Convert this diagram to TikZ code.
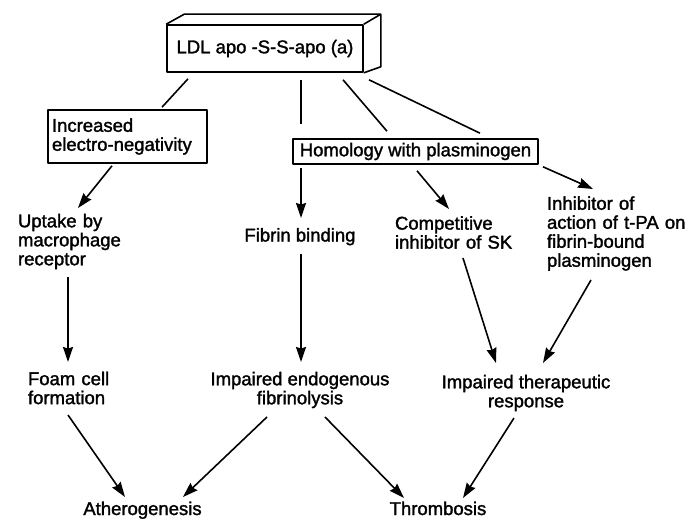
\documentclass[tikz,border=0pt]{standalone}
\usepackage{fontspec}
\setmainfont{Liberation Sans}[FakeBold=1.6]
\usetikzlibrary{arrows.meta}
\begin{document}
\begin{tikzpicture}[x=1pt, y=-1pt, line width=1.6pt, line join=round, >={Stealth[length=15pt,width=10pt,inset=1.5pt]},
		font=\fontsize{18.5}{19}\selectfont,
		box/.style={draw, inner sep=2pt},
		txt/.style={inner sep=0pt},
		lft/.style={txt, align=left, text width=#1}]
	\useasboundingbox (0,0) rectangle (686,519);
	\node[box, minimum width=196pt, minimum height=47pt] (ldl) at (265,48.5) {LDL apo -S-S-apo (a)};
	\draw (ldl.north west) -- ([shift={(18,-10)}]ldl.north west) -- ([shift={(17,-10)}]ldl.north east) -- ([shift={(17,-6)}]ldl.south east) -- (ldl.south east);
	\draw (ldl.north east) -- ([shift={(17,-10)}]ldl.north east);
	\node[draw, align=left, text width=151pt, inner xsep=4pt, inner ysep=0pt, minimum height=53pt] (incr) at (127.5,136.5) {Increased\\electro-negativity};
	\node[box, minimum width=245pt, minimum height=25pt] (hom) at (415.5,151.5) {Homology with plasminogen};
	\node[lft=115pt] (upt) at (75.5,241.5) {Uptake by\\macrophage\\receptor};
	\node[txt, anchor=base] (fib) at (300,241.5) {Fibrin binding};
	\node[lft=125pt] (comp) at (457.5,232.5) {Competitive\\inhibitor of SK};
	\node[lft=145pt] (inh) at (619.5,233.5) {Inhibitor of\\action of t-PA on\\fibrin-bound\\plasminogen};
	\node[lft=90pt] (foam) at (73,388) {Foam cell\\formation};
	\node[txt, align=center] (endo) at (300,390) {Impaired endogenous\\fibrinolysis};
	\node[txt, align=center] (ther) at (526,393) {Impaired therapeutic\\response};
	\node[txt, anchor=base] (ath) at (142.5,515) {Atherogenesis};
	\node[txt, anchor=base] (thr) at (438,515) {Thrombosis};
	% lines from the top box
	\draw ([shift={(-77,6)}]ldl.south) -- ([shift={(34.5,-2)}]incr.north);
	\draw ([shift={(36,7)}]ldl.south) -- ([shift={(-114.5,-14)}]hom.north);
	\draw ([shift={(78,7)}]ldl.south) -- ([shift={(-28.5,-7)}]hom.north);
	\draw ([shift={(104,7)}]ldl.south) -- ([shift={(64.5,-5)}]hom.north);
	% arrows
	\draw[->] ([shift={(-15.5,2)}]incr.south) -- ([shift={(2.5,-33.5)}]upt.center);
	\draw[->] ([shift={(-114.5,3)}]hom.south) -- ([shift={(1,-23.5)}]fib.base);
	\draw[->] ([shift={(1.5,6)}]hom.south) -- ([shift={(-8.5,-23.5)}]comp.center);
	\draw[->] ([shift={(127.5,2)}]hom.south) -- ([shift={(-26.5,-44.5)}]inh.center);
	\draw[->] ([shift={(-7.5,35.5)}]upt.center) -- ([shift={(-5,-26)}]foam.center);
	\draw[->] ([shift={(1,12)}]fib.base) -- ([shift={(1,-28)}]endo.center);
	\draw[->] ([shift={(5.5,25.5)}]comp.center) -- ([shift={(-30,-30)}]ther.center);
	\draw[->] ([shift={(-28.5,46.5)}]inh.center) -- ([shift={(17,-30)}]ther.center);
	\draw[->] ([shift={(-5,27)}]foam.center) -- ([shift={(-17.5,-18)}]ath.base);
	\draw[->] ([shift={(-33,27)}]endo.center) -- ([shift={(40.5,-18)}]ath.base);
	\draw[->] ([shift={(25,27)}]endo.center) -- ([shift={(-34,-17)}]thr.base);
	\draw[->] ([shift={(-12,25)}]ther.center) -- ([shift={(25,-17)}]thr.base);
\end{tikzpicture}
\end{document}
